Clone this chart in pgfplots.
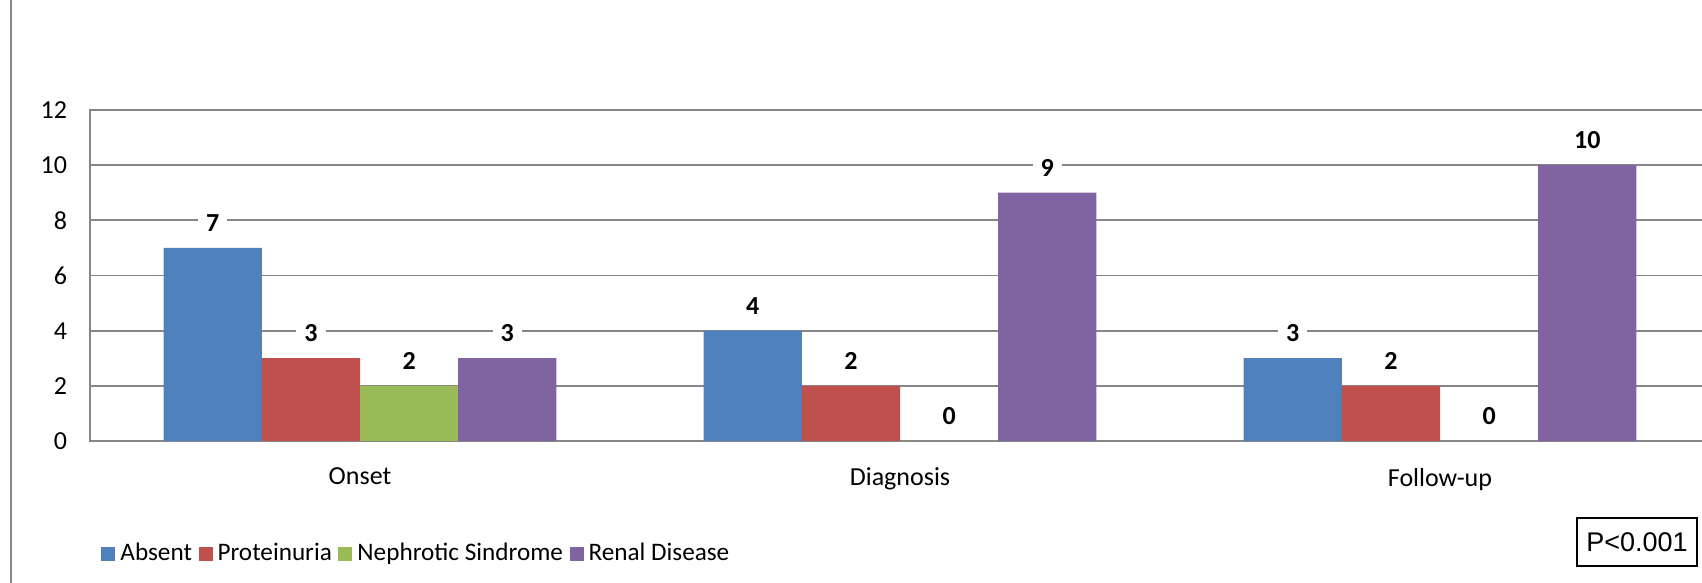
\documentclass[border=0pt]{standalone}
\usepackage{pgfplots}
\pgfplotsset{compat=1.18}
\usepackage{fontspec}
\setmainfont{Carlito}
\newfontfamily\arialfont{Liberation Sans}

\definecolor{cAbsent}{HTML}{4F81BD}
\definecolor{cProt}{HTML}{C0504D}
\definecolor{cNeph}{HTML}{9BBB59}
\definecolor{cRenal}{HTML}{8064A2}
\definecolor{gridgray}{HTML}{868686}

\begin{document}
\begin{tikzpicture}
\useasboundingbox (0pt,0pt) rectangle (851pt,291.5pt);
\clip (0pt,0pt) rectangle (851pt,291.5pt);
% outer frame edge
\draw[gridgray, line width=1pt] (5.5pt,0pt) -- (5.5pt,291.5pt);
\begin{axis}[
  at={(45pt,71pt)}, anchor=south west,
  scale only axis, width=810pt, height=165.5pt,
  xmin=-0.5, xmax=2.5, ymin=0, ymax=12,
  ybar=0pt, bar width=49.09pt,
  xtick={0,1,2}, xticklabels={Onset,Diagnosis,Follow-up},
  ytick={0,2,...,12},
  major tick length=0pt,
  ymajorgrids, grid style={gridgray, line width=0.9pt},
  axis line style={gridgray, line width=0.9pt},
  /pgf/number format/assume math mode=true,
  tick label style={font=\fontsize{13}{15}\selectfont, text=black},
  yticklabel style={xshift=-8pt},
  xticklabel style={yshift=-10pt},
  nodes near coords,
  every node near coord/.append style={font=\bfseries\fontsize{13}{15}\selectfont,
     fill=white, text=black, anchor=center, yshift=12.5pt, inner xsep=4pt, inner ysep=1pt},
  legend columns=-1,
  legend image code/.code={\fill[#1] (0pt,-3.5pt) rectangle (7pt,3.5pt);},
  legend style={at={(0.0068,-0.34)}, anchor=west, draw=none, inner sep=0pt,
     font=\fontsize{12.6}{14}\selectfont,
     nodes={inner xsep=2.5pt},
     /tikz/every even column/.append style={column sep=0.8pt}},
]
\addplot[fill=cAbsent, draw=none] coordinates {(0,7) (1,4) (2,3)};
\addplot[fill=cProt, draw=none] coordinates {(0,3) (1,2) (2,2)};
\addplot[fill=cNeph, draw=none] coordinates {(0,2) (1,0) (2,0)};
\addplot[fill=cRenal, draw=none] coordinates {(0,3) (1,9) (2,10)};
\legend{Absent, Proteinuria, Nephrotic Sindrome, Renal Disease}
\end{axis}
\node[draw=black, line width=1pt, inner sep=0pt, minimum width=60pt, minimum height=24pt,
      font=\arialfont\fontsize{13.5}{16}\selectfont] at (818.5pt,20.5pt) {P<0.001};
\end{tikzpicture}
\end{document}
